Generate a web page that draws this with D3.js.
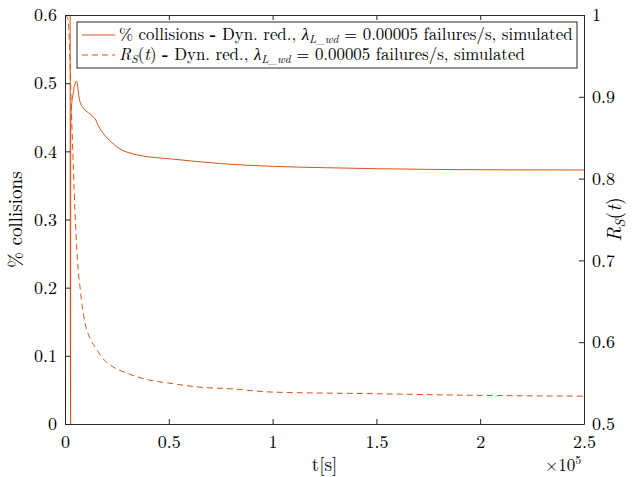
<!DOCTYPE html>
<html>
<head>
<meta charset="utf-8">
<script src="https://cdn.jsdelivr.net/npm/d3@7"></script>
</head>
<body style="margin:0;background:#fff">
<div id="chart"></div>
<script>
let w = 641;
let h = 477;
let margin = {left: 65, right: 57, top: 15, bottom: 53};
let serif = "'Latin Modern Roman', 'Liberation Serif', serif";

// collisions curve (left axis), t in seconds
let collT = [0, 300, 2400, 2650, 2700, 2750, 3000, 4000, 5600, 7000, 9500, 12000, 13500, 14500, 16000, 18000, 20200, 22500, 25000, 28000, 31300, 36000, 41000, 50600, 62000, 75000, 100000, 125000, 150000, 200000, 250000];
let collV = [0.42, 0.8, 0.8, 0, 0, 0.42, 0.46, 0.486, 0.503, 0.475, 0.461, 0.455, 0.451, 0.448, 0.438, 0.428, 0.42, 0.413, 0.4065, 0.401, 0.3975, 0.394, 0.3917, 0.389, 0.3855, 0.382, 0.378, 0.376, 0.3745, 0.373, 0.3726];

// reliability curve (right axis)
let relT = [0, 1500, 2200, 3000, 3400, 4800, 6300, 7200, 8500, 9600, 12000, 14500, 19000, 23000, 30000, 40000, 50000, 65000, 80000, 100000, 150000, 200000, 250000];
let relV = [1.0, 0.995, 0.96, 0.89, 0.86, 0.76, 0.69, 0.668, 0.64, 0.624, 0.605, 0.594, 0.578, 0.57, 0.562, 0.554, 0.55, 0.545, 0.543, 0.539, 0.537, 0.535, 0.534];

let xTicks = [0, 50000, 100000, 150000, 200000, 250000];
let xTickLabels = ["0", "0.5", "1", "1.5", "2", "2.5"];
let leftTicks = [0, 0.1, 0.2, 0.3, 0.4, 0.5, 0.6];
let rightTicks = [0.5, 0.6, 0.7, 0.8, 0.9, 1];

let orange = "#D95319";

let svg = d3.select("#chart").append("svg")
  .attr("width", w)
  .attr("height", h)
  .style("background-color", "white");

let x0 = margin.left, x1 = w - margin.right, y0 = h - margin.bottom, y1 = margin.top;

let xScale = d3.scaleLinear().domain([0, 250000]).range([x0, x1]);
let yLeft = d3.scaleLinear().domain([0, 0.6]).range([y0, y1]);
let yRight = d3.scaleLinear().domain([0.5, 1]).range([y0, y1]);

svg.append("clipPath").attr("id", "clip")
  .append("rect").attr("x", x0).attr("y", y1).attr("width", x1 - x0).attr("height", y0 - y1);

let collData = collT.map((t, i) => ({t: t, v: collV[i]}));
let relData = relT.map((t, i) => ({t: t, v: relV[i]}));

let plot = svg.append("g").attr("clip-path", "url(#clip)");

plot.append("path")
  .datum(relData)
  .attr("fill", "none")
  .attr("stroke", orange)
  .attr("stroke-width", 1)
  .attr("stroke-dasharray", "6,4")
  .attr("d", d3.line().curve(d3.curveMonotoneX).x(d => xScale(d.t)).y(d => yRight(d.v)));

plot.append("path")
  .datum(collData)
  .attr("fill", "none")
  .attr("stroke", orange)
  .attr("stroke-width", 1)
  .attr("d", d3.line().curve(d3.curveMonotoneX).x(d => xScale(d.t)).y(d => yLeft(d.v)));

// axes
let tickLen = 5;
let axisColor = "#262626";

let xAxis = d3.axisBottom(xScale).tickValues(xTicks)
  .tickFormat((d, i) => xTickLabels[i]).tickSizeInner(-tickLen).tickSizeOuter(0).tickPadding(11);
let gx = svg.append("g").attr("transform", `translate(0,${y0})`).call(xAxis);

let xTop = d3.axisTop(xScale).tickValues(xTicks).tickFormat("").tickSizeInner(-tickLen).tickSizeOuter(0);
let gxt = svg.append("g").attr("transform", `translate(0,${y1})`).call(xTop);

let yAxisL = d3.axisLeft(yLeft).tickValues(leftTicks).tickFormat(d3.format("~g"))
  .tickSizeInner(-tickLen).tickSizeOuter(0).tickPadding(8);
let gl = svg.append("g").attr("transform", `translate(${x0},0)`).call(yAxisL);

let yAxisR = d3.axisRight(yRight).tickValues(rightTicks).tickFormat(d3.format("~g"))
  .tickSizeInner(-tickLen).tickSizeOuter(0).tickPadding(8);
let gr = svg.append("g").attr("transform", `translate(${x1},0)`).call(yAxisR);

[gx, gxt, gl, gr].forEach(g => {
  g.selectAll("path.domain").attr("stroke", axisColor).attr("stroke-width", 1);
  g.selectAll(".tick line").attr("stroke", axisColor);
  g.selectAll(".tick text").attr("fill", "#000")
    .style("font-family", serif).style("font-size", "18px");
});

// axis labels
svg.append("text")
  .attr("x", (x0 + x1) / 2).attr("y", 471)
  .attr("text-anchor", "middle").style("font-size", "19px")
  .text("t[s]");

let exp = svg.append("text").attr("x", 545).attr("y", 471).style("font-size", "17px");
exp.append("tspan").text("×10");
exp.append("tspan").attr("dy", -7).style("font-size", "12px").text("5");

svg.append("text")
  .attr("transform", `translate(22,${(y0 + y1) / 2}) rotate(-90)`)
  .attr("text-anchor", "middle").style("font-size", "19px")
  .text("% collisions");

let rl = svg.append("text")
  .attr("transform", `translate(621,${(y0 + y1) / 2}) rotate(-90)`)
  .attr("text-anchor", "middle").style("font-size", "20px");
rl.append("tspan").style("font-style", "italic").text("R");
rl.append("tspan").attr("dy", 4).style("font-size", "14px").style("font-style", "italic").text("S");
rl.append("tspan").attr("dy", -4).text("(");
rl.append("tspan").style("font-style", "italic").text("t");
rl.append("tspan").text(")");

// legend
let lg = svg.append("g");
lg.append("rect").attr("x", 77).attr("y", 22).attr("width", 500).attr("height", 46)
  .attr("fill", "white").attr("stroke", axisColor).attr("stroke-width", 1);

let rows = [
  {dash: null, y: 35},
  {dash: "6,4", y: 55}
];

rows.forEach((r, i) => {
  lg.append("line").attr("x1", 82).attr("x2", 115).attr("y1", r.y).attr("y2", r.y)
    .attr("stroke", orange).attr("stroke-dasharray", r.dash);
  let t = lg.append("text").attr("x", 119).attr("y", r.y + 5).style("font-size", "16px");
  if (i === 0) {
    t.append("tspan").text("% collisions ");
    t.append("tspan").style("font-weight", "bold").text("-");
    t.append("tspan").text(" Dyn. red., ");
  } else {
    t.append("tspan").style("font-style", "italic").text("R");
    t.append("tspan").attr("dy", 3).style("font-size", "11px").style("font-style", "italic").text("S");
    t.append("tspan").attr("dy", -3).text("(");
    t.append("tspan").style("font-style", "italic").text("t");
    t.append("tspan").text(") ");
    t.append("tspan").style("font-weight", "bold").text("-");
    t.append("tspan").text(" Dyn. red., ");
  }
  t.append("tspan").style("font-style", "italic").text("λ");
  t.append("tspan").attr("dy", 3).style("font-size", "11px").style("font-style", "italic").text("L_wd");
  t.append("tspan").attr("dy", -3).text(" = 0.00005 failures/s, simulated");
});

// all texts in the serif font
svg.selectAll("text").style("font-family", serif).attr("fill", "#000");

// scale legend text to the width seen in the reference
let firstLen = lg.select("text").node().getComputedTextLength();
let k = 454 / firstLen;
lg.selectAll("text").each(function () {
  let fs = parseFloat(this.style.fontSize);
  d3.select(this).style("font-size", (fs * k) + "px");
  d3.select(this).selectAll("tspan").each(function () {
    let s = this.style.fontSize;
    if (s) d3.select(this).style("font-size", (parseFloat(s) * k) + "px");
  });
});
</script>
</body>
</html>
